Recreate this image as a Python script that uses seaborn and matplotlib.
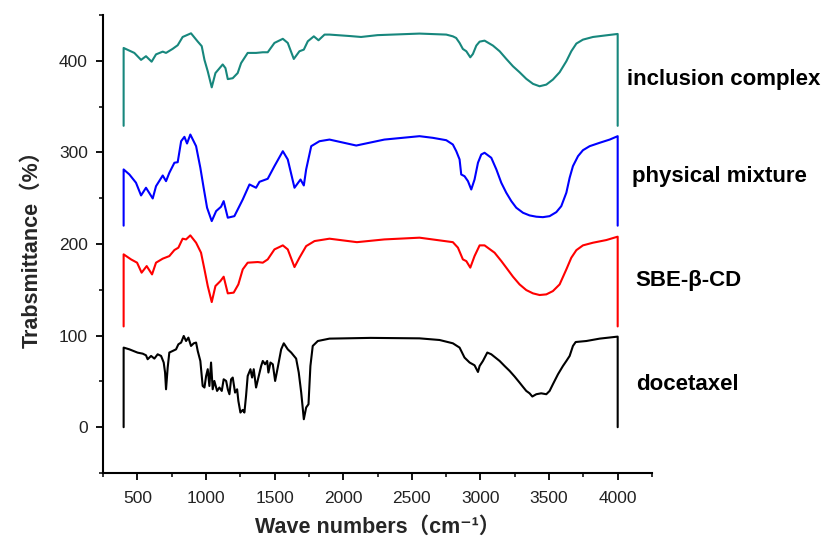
import matplotlib
matplotlib.use("Agg")
import matplotlib.pyplot as plt
from matplotlib.ticker import MultipleLocator
import seaborn as sns
import pandas as pd

# ---------------- data ----------------
samples = ["docetaxel", "SBE-β-CD", "physical mixture", "inclusion complex"]
colors = ["#000000", "#ff0000", "#0000ff", "#17877d"]

dtx_wn = [400, 400, 442, 502, 539, 563, 575, 600, 624, 648, 673, 692, 702, 709, 721, 733, 757, 782, 799, 819,
          838, 855, 872, 891, 911, 928, 940, 959, 976, 989, 1001, 1013, 1025, 1037, 1049, 1061, 1081, 1098, 1115,
          1129, 1147, 1159, 1171, 1183, 1195, 1212, 1227, 1236, 1251, 1268, 1280, 1292, 1304, 1324, 1336, 1348,
          1365, 1382, 1402, 1414, 1431, 1446, 1455, 1470, 1487, 1504, 1523, 1548, 1567, 1596, 1621, 1657, 1676,
          1694, 1713, 1730, 1747, 1761, 1778, 1815, 1900, 2200,
          2556, 2702, 2799, 2848, 2884, 2921, 2957, 2982, 2994, 3018, 3050, 3079, 3140, 3176, 3213, 3249, 3285,
          3310, 3334, 3358, 3378, 3407, 3443, 3480, 3504, 3528, 3565, 3601, 3626, 3650, 3674, 3694, 3772, 3869,
          4000, 4000]
dtx_T = [0, 86.9, 85, 81.4, 80.3, 78.5, 74.2, 77.8, 74.9, 79.6, 77.8, 70.6, 59.7, 41.4, 65.1, 81.5, 83.2, 85,
         90.5, 92.4, 99.6, 94.1, 97.8, 88.7, 91.6, 92.4, 83.2, 72.3, 45, 43.3, 55.9, 63.3, 45, 70.6, 41.4, 50.5,
         39.6, 43.3, 39.6, 52.3, 50.5, 41.4, 36, 52.3, 54.2, 37.8, 41.4, 28.7, 16, 18.9, 16, 34.1, 55.9, 63.3,
         54.2, 63.3, 43.3, 54.2, 66.8, 72.3, 68.7, 72.3, 59.7, 70.6, 68.7, 50.5, 65.1, 85, 91.6, 85, 81.5, 74.9,
         59.7, 37.8, 8.7, 21.5, 25.1, 66.8, 88.7, 94.1, 96.7, 97.5,
         97, 95.2, 91.6, 86.9, 76, 70.6, 67.6, 60.3, 66.8, 72.3, 81.5, 79.6, 72.3, 66.8, 61.4, 55.3, 48.7,
         44, 39.6, 37, 33.5, 36, 37, 36, 39.6, 46.9, 57.8, 66.8, 72.3, 77.8, 88.7, 93, 94.1, 96.7,
         98.9, 0]

sbe_wn = [400, 400, 454, 498, 531, 568, 607, 636, 685, 733, 770, 799, 830, 855, 886, 928, 964, 989, 1013, 1042,
          1069, 1105, 1129, 1159, 1202, 1236, 1268, 1304, 1377, 1414, 1450, 1499, 1560, 1596, 1645, 1681, 1730,
          1791, 1900, 2100, 2300, 2556, 2799, 2836, 2872, 2897, 2926, 2957, 2994, 3030,
          3103, 3152, 3188, 3237, 3285, 3334, 3383, 3431, 3480, 3528, 3577, 3626, 3662, 3699, 3747, 3820, 3917,
          4000, 4000]
sbe_T = [110, 188.7, 183.2, 179.6, 168.7, 175.9, 166.8, 179.6, 184, 186.8, 193.4, 196, 205.8, 205, 209.4, 201.4,
         190.5, 172.3, 154.1, 136.6, 154.1, 159.5, 164.3, 146.1, 146.9, 155.9, 172.3, 179.6, 180.3, 179.6, 183.2,
         194.1, 198.5, 194.1, 174.8, 185, 197.7, 203.2, 205.8, 202, 205, 206.9, 202, 196, 183.2, 181.3, 174.2,
         186.8, 198.5, 198.5,
         190.5, 181.4, 174.2, 164.3, 155.9, 149.7, 146.1, 144.3, 145, 148.6, 155.9, 172.3, 185, 193.3, 198.5,
         201.4, 204.3, 208, 110]

pm_wn = [400, 400, 442, 490, 527, 563, 612, 636, 685, 709, 733, 770, 794, 819, 843, 862, 886, 928, 959, 983, 1008,
         1042, 1074, 1110, 1129, 1159, 1207, 1268, 1317, 1365, 1390, 1450, 1499, 1560, 1596, 1645, 1689, 1713,
         1730, 1767, 1827, 1900, 2095, 2300, 2556,
         2653, 2751, 2799, 2824, 2848, 2860, 2884, 2909, 2933, 2957, 2982, 3006, 3030, 3079, 3116, 3152, 3188,
         3225, 3261, 3310, 3358, 3407, 3455, 3504, 3553, 3589, 3626, 3650, 3674, 3711, 3747, 3796, 3869, 3942,
         4000, 4000]
pm_T = [220, 281.4, 275.9, 266.9, 253, 261.4, 249.7, 263.1, 274.8, 268.6, 277.7, 288.7, 289.3, 312.2, 317, 309.7,
        319.5, 306.8, 283.2, 261.4, 239.6, 225, 235.9, 240.7, 246.8, 228.7, 230.4, 248.6, 265, 261.4, 267.9, 271.2,
        285, 301.3, 292.3, 261.4, 270.4, 263.9, 281.4, 306.8, 312.2, 314, 307.5, 314, 317.7,
        315.9, 313.3, 308.6, 301.3, 292.3, 275.9, 274, 268.6, 259.5, 270.4, 288.7, 297.7, 299.6, 294.1, 281.4,
        266.8, 256, 246.8, 239.6, 234.1, 231.2, 229.8, 229.3, 230.4, 234.8, 241.3, 256, 272.3, 285, 295.9,
        302.4, 306.8, 310.5, 314, 317.7, 220]

ic_wn = [400, 400, 478, 527, 563, 604, 636, 685, 709, 757, 794, 830, 891, 940, 969, 989, 1013, 1042, 1069, 1122,
         1142, 1159, 1195, 1231, 1256, 1304, 1365, 1414, 1450, 1499, 1560, 1596, 1640, 1681, 1713, 1742, 1786,
         1820, 1864, 1900, 2050, 2130, 2250, 2556,
         2751, 2799, 2823, 2848, 2872, 2897, 2926, 2945, 2970, 2994, 3030, 3091, 3140, 3188, 3237, 3285, 3334,
         3383, 3431, 3480, 3528, 3577, 3626, 3662, 3699, 3747, 3820, 3917, 4000, 4000]
ic_T = [329, 414, 408.6, 401, 405, 399, 407, 410, 408.6, 413, 417, 426, 430, 421, 416, 401, 388.5, 371, 386.6,
        396, 392, 380, 381, 386.6, 397.5, 408.6, 408.6, 409.3, 409.3, 419.5, 424, 419.5, 402, 410.4, 412.2, 421.3,
        426.7, 422.4, 428.6, 428.6, 427, 426, 428, 429.7,
        428.6, 426.7, 424.9, 419.5, 412.9, 410.4, 403.8, 407.4, 416.6, 420.9, 422, 416.6, 410.4, 402.1, 394,
        387.5, 380.3, 374.8, 372.2, 374, 379.5, 387.5, 399.5, 410.4, 418.8, 423.1, 426, 427.8, 429.3, 329]

x_ticks = [500, 1000, 1500, 2000, 2500, 3000, 3500, 4000]
y_ticks = [0, 100, 200, 300, 400]

# label anchor (data coords) for each curve
label_x = [4131, 4131, 4102, 4066]
label_y = [47, 160, 274, 380]

# ---------------- build table ----------------
frames = []
for name, wn, T in zip(samples, [dtx_wn, sbe_wn, pm_wn, ic_wn], [dtx_T, sbe_T, pm_T, ic_T]):
    frames.append(pd.DataFrame({"wn": wn, "T": T, "sample": name}))
df = pd.concat(frames, ignore_index=True)

# ---------------- plot ----------------
sns.set_theme(style="ticks")
plt.rcParams["font.family"] = ["Liberation Sans", "DejaVu Sans", "Noto Sans CJK SC"]

fig = plt.figure(figsize=(8.33, 5.45), dpi=100)
ax = fig.add_axes([0.1237, 0.1321, 0.6590, 0.8404])

sns.lineplot(data=df, x="wn", y="T", hue="sample", hue_order=samples,
             palette=colors, estimator=None, sort=False, legend=False,
             linewidth=1.5, ax=ax)

ax.set_xlim(250, 4250)
ax.set_ylim(-50, 450)
ax.set_xticks(x_ticks)
ax.set_yticks(y_ticks)
ax.xaxis.set_minor_locator(MultipleLocator(250))
ax.yaxis.set_minor_locator(MultipleLocator(50))

sns.despine(ax=ax)
for s in ["left", "bottom"]:
    ax.spines[s].set_linewidth(1.5)
    ax.spines[s].set_color("black")

ax.tick_params(which="major", direction="out", length=5, width=1.3, labelsize=12.5,
               colors="black", labelcolor="#222222")
ax.tick_params(which="minor", direction="out", length=3, width=1.1, colors="black")
ax.tick_params(axis="x", which="major", pad=8)
ax.tick_params(axis="y", which="major", pad=6)

lab_family = ["Liberation Sans", "DejaVu Sans", "Noto Sans CJK SC"]
ax.set_xlabel("Wave numbers（cm⁻¹）", fontsize=15.5, fontweight="bold",
              family=lab_family, labelpad=8)
ax.set_ylabel("Trabsmittance（%）", fontsize=15.5, fontweight="bold",
              family=lab_family, labelpad=12)

for name, lx, ly in zip(samples, label_x, label_y):
    ax.text(lx, ly, name, fontsize=16, fontweight="bold", ha="left", va="center",
            color="black", clip_on=False)

fig.savefig("out.png", dpi=100)
